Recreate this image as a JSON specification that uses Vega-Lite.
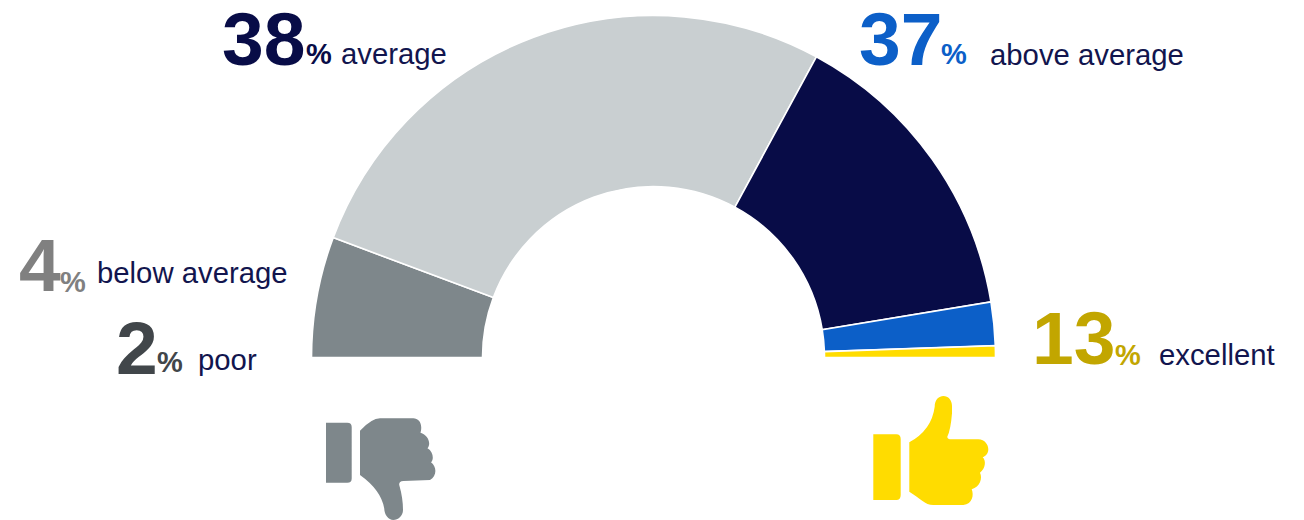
{
  "$schema": "https://vega.github.io/schema/vega-lite/v6.json",
  "width": 1304,
  "height": 520,
  "padding": 0,
  "autosize": "none",
  "background": "white",
  "config": {"view": {"stroke": null}, "text": {"font": "Liberation Sans"}},
  "datasets": {
    "ratings": [
      {"rating": "poor", "rank": 1, "percent": 2, "arc_share": 11.4},
      {"rating": "below average", "rank": 2, "percent": 4, "arc_share": 54.4},
      {"rating": "average", "rank": 3, "percent": 38, "arc_share": 29.0},
      {"rating": "above average", "rank": 4, "percent": 37, "arc_share": 4.1},
      {"rating": "excellent", "rank": 5, "percent": 13, "arc_share": 1.1}
    ],
    "hands": [
      {"hand": "down", "rank": 1},
      {"hand": "up", "rank": 5}
    ]
  },
  "resolve": {"scale": {"x": "independent", "y": "independent", "color": "independent", "shape": "independent", "theta": "independent"}},
  "layer": [
    {
      "data": {"name": "ratings"},
      "mark": {"type": "arc", "radius": 342, "radius2": 171, "stroke": "white", "strokeWidth": 1.6},
      "encoding": {
        "x": {"datum": "dial", "type": "nominal", "axis": null, "scale": {"range": [653.5, 653.5]}},
        "y": {"datum": "dial", "type": "nominal", "axis": null, "scale": {"range": [357.5, 357.5]}},
        "theta": {"field": "arc_share", "type": "quantitative", "scale": {"domain": [0, 100], "range": [-1.5708, 1.5708]}},
        "order": {"field": "rank"},
        "color": {
          "field": "rating", "type": "nominal", "legend": null,
          "scale": {
            "domain": ["poor", "below average", "average", "above average", "excellent"],
            "range": ["#7e878b", "#c9cfd1", "#080c47", "#0c5fc8", "#ffdc00"]
          }
        }
      }
    },
    {
      "data": {"name": "ratings"},
      "mark": {"type": "text", "align": "left", "baseline": "alphabetic", "fontSize": 75, "fontWeight": "bold"},
      "encoding": {
        "x": {"field": "rank", "type": "quantitative", "axis": null, "scale": {"domain": [1, 2, 3, 4, 5], "range": [116, 19, 222, 859, 1032], "zero": false, "nice": false}},
        "y": {"field": "rank", "type": "quantitative", "axis": null, "scale": {"domain": [1, 2, 3, 4, 5], "range": [374, 291, 65, 65, 364], "zero": false, "nice": false}},
        "text": {"field": "percent", "type": "quantitative"},
        "color": {
          "field": "rating", "type": "nominal", "legend": null,
          "scale": {
            "domain": ["poor", "below average", "average", "above average", "excellent"],
            "range": ["#41464a", "#808080", "#080c47", "#0c5fc8", "#c2a600"]
          }
        }
      }
    },
    {
      "data": {"name": "ratings"},
      "mark": {"type": "text", "align": "left", "baseline": "alphabetic", "fontSize": 29, "fontWeight": "bold", "text": "%"},
      "encoding": {
        "x": {"field": "rank", "type": "quantitative", "axis": null, "scale": {"domain": [1, 2, 3, 4, 5], "range": [157, 60, 306, 941, 1115], "zero": false, "nice": false}},
        "y": {"field": "rank", "type": "quantitative", "axis": null, "scale": {"domain": [1, 2, 3, 4, 5], "range": [372, 292, 64, 64, 365], "zero": false, "nice": false}},
        "color": {
          "field": "rating", "type": "nominal", "legend": null,
          "scale": {
            "domain": ["poor", "below average", "average", "above average", "excellent"],
            "range": ["#41464a", "#808080", "#080c47", "#0c5fc8", "#c2a600"]
          }
        }
      }
    },
    {
      "data": {"name": "ratings"},
      "mark": {"type": "text", "align": "left", "baseline": "alphabetic", "fontSize": 29.3, "color": "#12154e"},
      "encoding": {
        "x": {"field": "rank", "type": "quantitative", "axis": null, "scale": {"domain": [1, 2, 3, 4, 5], "range": [198, 97, 341, 990, 1159], "zero": false, "nice": false}},
        "y": {"field": "rank", "type": "quantitative", "axis": null, "scale": {"domain": [1, 2, 3, 4, 5], "range": [370, 283, 64, 65, 365], "zero": false, "nice": false}},
        "text": {"field": "rating", "type": "nominal"}
      }
    },
    {
      "data": {"name": "hands"},
      "mark": {"type": "point", "filled": true, "opacity": 1, "size": 4, "strokeWidth": 0},
      "encoding": {
        "x": {"field": "rank", "type": "quantitative", "axis": null, "scale": {"domain": [1, 5], "range": [381, 930], "zero": false, "nice": false}},
        "y": {"field": "rank", "type": "quantitative", "axis": null, "scale": {"domain": [1, 5], "range": [469, 450], "zero": false, "nice": false}},
        "shape": {
          "field": "hand", "type": "nominal", "legend": null,
          "scale": {
            "domain": ["down", "up"],
            "range": [
              "M-21,-38.3Q-9.3,-50.7 -1,-50.7L32.3,-50.7C38,-50.7 42,-45 39.5,-36.3C47,-34 50.5,-25.7 46.5,-20.7C52.5,-17.3 53,-9 50,-6.7C56,-2.3 56,7 49,11L22.3,12Q17,12.5 18.5,17Q22,29.3 22,41C22,47 17,51 12.3,51C7.3,51 3.5,46 3.2,39.3Q0,21 -21,6ZM-55,-46.3L-33.7,-46.3Q-29.3,-46.3 -29.3,-42L-29.3,9.4Q-29.3,13.7 -33.7,13.7L-55,13.7Z",
              "M-20.7,-7.7Q1.7,-20 4.7,-43.3C4.7,-50.7 9.3,-54 13.3,-54C18.3,-54 22,-50 22,-44L22,-36.7Q20.7,-20 17.3,-13.3Q17.3,-10.7 21.7,-10.7L48.3,-10.7C55,-10.7 58.3,-5 58.3,-0.7C58.3,3.3 56,6 52.7,7.3C56,10 56,18.3 50,22.7C52.7,28.3 50,36.7 41.7,39.3C44,45 42.7,54 33.3,55L3.3,55C-5,55 -10,48.3 -20.7,41.7ZM-56.7,-15.7L-33.7,-15.7Q-29.3,-15.7 -29.3,-11L-29.3,45Q-29.3,50 -33.7,50L-56.7,50Z"
            ]
          }
        },
        "color": {
          "field": "hand", "type": "nominal", "legend": null,
          "scale": {"domain": ["down", "up"], "range": ["#7e878b", "#ffdc00"]}
        }
      }
    }
  ]
}
